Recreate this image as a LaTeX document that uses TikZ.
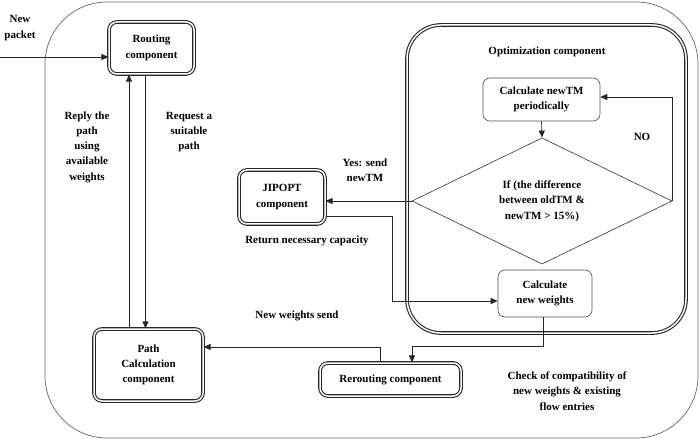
\documentclass[tikz,border=0pt]{standalone}
\usepackage{fontspec}
\setmainfont{Liberation Serif}
\usetikzlibrary{arrows.meta,shapes.geometric,calc}
\begin{document}
\begin{tikzpicture}[x=1pt,y=-1pt,
  font=\fontsize{11}{15.3}\selectfont\bfseries,
  comp/.style={draw=black!85, double, double distance=1.5pt, line width=1.1pt, rounded corners=8pt, align=center, inner sep=0pt},
  sub/.style={draw=black!70, line width=0.6pt, rounded corners=7pt, align=center, inner sep=0pt},
  lbl/.style={align=center, inner sep=0pt},
  conn/.style={draw=black!85, line width=0.7pt},
  arr/.style={conn, -{Triangle[length=7pt,width=6pt]}},
]
\useasboundingbox (0,0) rectangle (700,443);
% outer frame
\draw[black!60, line width=0.7pt, rounded corners=62pt] (45,2) rectangle (698,438);

% optimization container
\node[comp, rounded corners=34pt, minimum width=279pt, minimum height=308pt] (opt) at (546.5,179) {};
\node[lbl] (opttitle) at (547,52) {Optimization component};

% components
\node[comp, minimum width=85pt, minimum height=52pt] (routing) at (151.5,48) {Routing\\component};
\node[comp, minimum width=109pt, minimum height=72pt] (path) at (148.5,365) {Path\\Calculation\\component};
\node[comp, minimum width=141pt, minimum height=33pt] (rerouting) at (390.5,379.5) {Rerouting component};
\node[comp, minimum width=86pt, minimum height=54pt] (jipopt) at (282,197) {JIPOPT\\component};

\node[sub, minimum width=117pt, minimum height=43pt] (calctm) at (541.5,99.5) {Calculate newTM\\periodically};
\node[draw=black!80, line width=0.6pt, diamond, minimum width=260pt, minimum height=108pt, inner sep=0pt, align=center] (dia) at (542,201) {If (the difference\\between oldTM \&\\newTM > 15\%)};
\node[sub, minimum width=94pt, minimum height=47pt] (calcw) at (545,293.5) {Calculate\\new weights};

% labels
\node[lbl] (lnp) at (20,28) {New\\packet};
\node[lbl] (lreply) at (87,147) {Reply the\\path\\using\\available\\weights};
\node[lbl] (lreq) at (189,132) {Request a\\suitable\\path};
\node[lbl] (lyes) at (365,170) {Yes: send\\newTM};
\node[lbl] (lno) at (642,137) {NO};
\node[lbl] (lret) at (307,241) {Return necessary capacity};
\node[lbl] (lnws) at (297,316) {New weights send};
\node[lbl] (lchk) at (567,391) {Check of compatibility of\\new weights \& existing\\flow entries};

% connectors
\coordinate (np) at (0,57);
\draw[arr] (np) -- (np -| routing.west);
\coordinate (ux) at (129,0);
\coordinate (dx) at (145.5,0);
\draw[arr] (path.north -| ux) -- (routing.south -| ux);
\draw[arr] (routing.south -| dx) -- (path.north -| dx);

\draw[arr] (calctm.south) -- (dia.north);
\coordinate (noy) at (0,97);
\draw[arr] (dia.east) -- (dia.east |- noy) -- (calctm.east |- noy);
\draw[arr] (dia.west) -- (dia.west -| jipopt.east);

\coordinate (r1) at (392,216);
\coordinate (r2) at (392,301);
\draw[arr] (jipopt.east |- r1) -- (r1) -- (r2) -- (r2 -| calcw.west);

\coordinate (w1) at (543,346);
\coordinate (w2) at (412,346);
\draw[arr] (calcw.south -| w1) -- (w1) -- (w2) -- (w2 |- rerouting.north);

\coordinate (p1) at (380,347);
\draw[arr] (rerouting.north -| p1) -- (p1) -- (p1 -| path.east);
\end{tikzpicture}
\end{document}
